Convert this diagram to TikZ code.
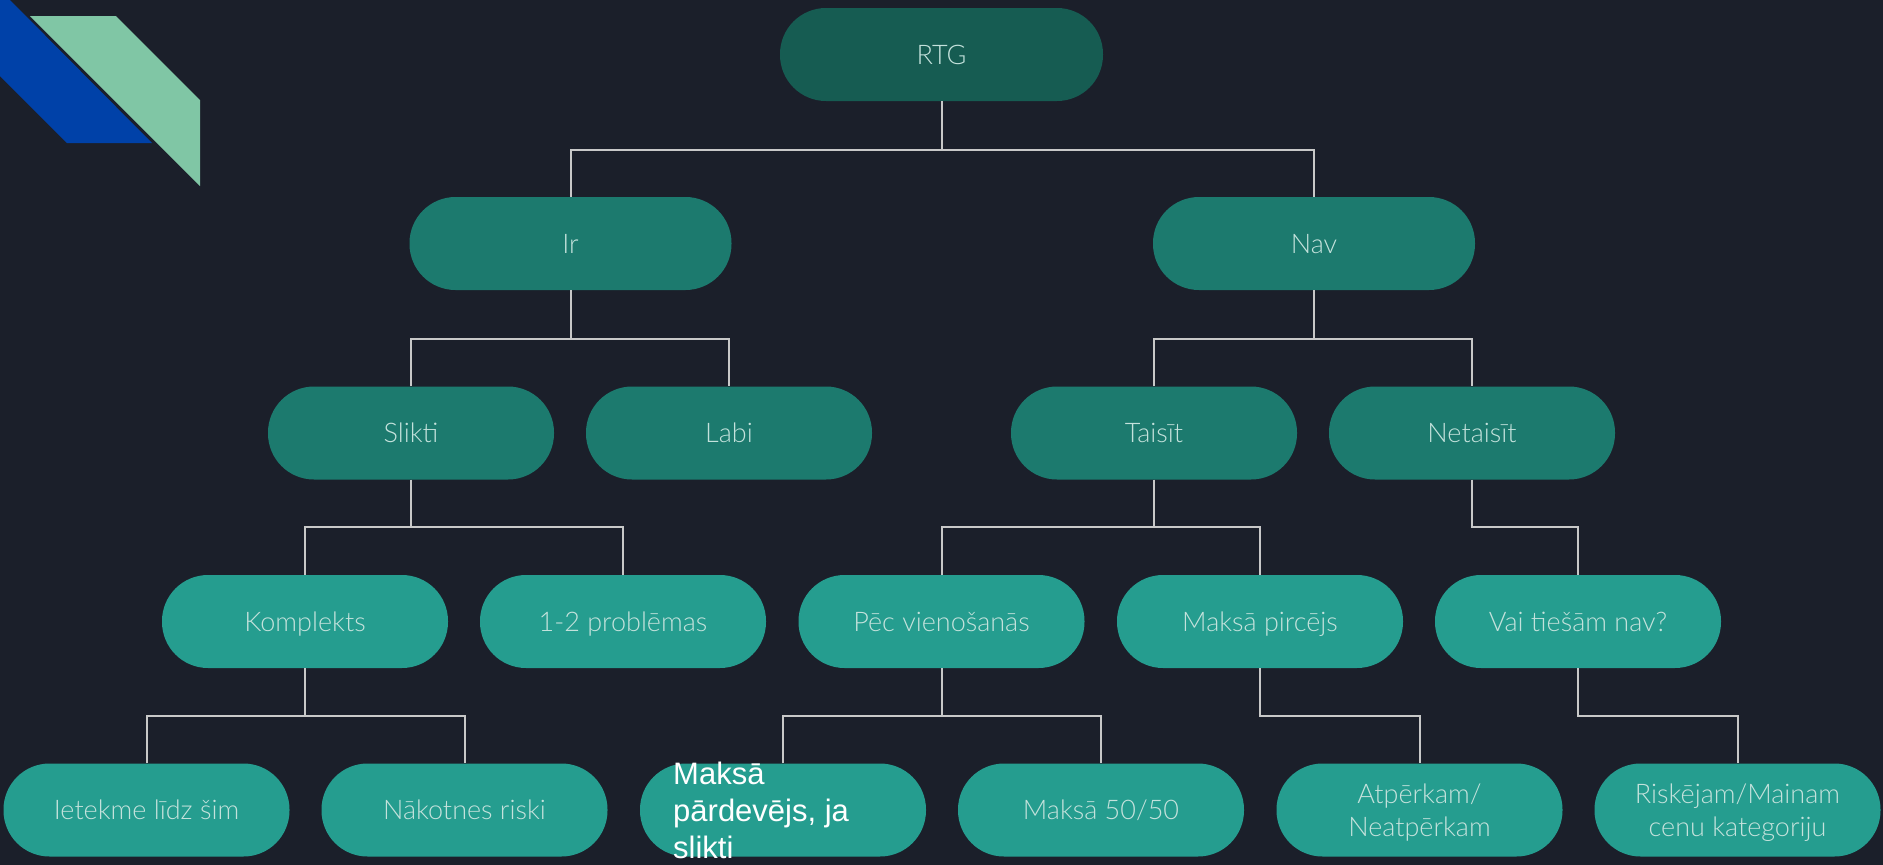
\documentclass[tikz,border=0pt]{standalone}
\usepackage{fontspec}
\setmainfont{Liberation Sans}
\newfontfamily\lightfont{Lato Light}
\newfontfamily\arialfont{Liberation Sans}
\definecolor{bg}{HTML}{1B1F2A}
\definecolor{decoblue}{HTML}{0041A8}
\definecolor{decogreen}{HTML}{80C6A5}
\definecolor{lvlzero}{HTML}{165C52}
\definecolor{lvlone}{HTML}{1C7A6E}
\definecolor{lvltwo}{HTML}{259D8F}
\definecolor{linegray}{HTML}{C8C8C8}
\definecolor{txtmint}{HTML}{C4E2DC}
\tikzset{
  pill/.style={rectangle, rounded corners=46pt, minimum height=93pt, inner sep=0pt,
    font=\lightfont\fontsize{27}{33}\selectfont, text=txtmint, align=center, text depth=0pt},
  pillwide/.style={pill, minimum width=322pt},
  pillnarrow/.style={pill, minimum width=286pt},
  conn/.style={draw=linegray, line width=2pt}
}
\begin{document}
\begin{tikzpicture}[x=1pt,y=-1pt]
\fill[bg] (0,0) rectangle (1883,865);
\useasboundingbox (0,0) rectangle (1883,865);
% decoration
\fill[decoblue] (0,0) -- (10,0) -- (152,143) -- (67,143) -- (0,76) -- cycle;
\fill[decogreen] (30,16) -- (116,16) -- (200,100) -- (200,186) -- cycle;
% bus coordinates
\coordinate (b1) at (0,149.5);
\coordinate (b2) at (0,338.5);
\coordinate (b3) at (0,527);
\coordinate (b4) at (0,715.5);
% nodes
\node[pillwide, fill=lvlzero, minimum width=323pt] (rtg) at (941.5,54.5) {RTG};
\node[pillwide, fill=lvlone] (ir) at (570.5,243.5) {Ir};
\node[pillwide, fill=lvlone] (nav) at (1314,243.5) {Nav};
\node[pillnarrow, fill=lvlone] (slikti) at (411,433) {Slikti};
\node[pillnarrow, fill=lvlone] (labi) at (729,433) {Labi};
\node[pillnarrow, fill=lvlone] (taisit) at (1154,433) {Taisīt};
\node[pillnarrow, fill=lvlone] (netaisit) at (1472,433) {Netaisīt};
\node[pillnarrow, fill=lvltwo] (komplekts) at (305,621.5) {Komplekts};
\node[pillnarrow, fill=lvltwo] (problemas) at (623,621.5) {1-2 problēmas};
\node[pillnarrow, fill=lvltwo] (pec) at (941.5,621.5) {Pēc vienošanās};
\node[pillnarrow, fill=lvltwo] (pircejs) at (1260,621.5) {Maksā pircējs};
\node[pillnarrow, fill=lvltwo] (vai) at (1578,621.5) {Vai tiešām nav?};
\node[pillnarrow, fill=lvltwo] (ietekme) at (146.5,810) {Ietekme līdz šim};
\node[pillnarrow, fill=lvltwo] (nakotnes) at (464.5,810) {Nākotnes riski};
\node[pillnarrow, fill=lvltwo] (pardevejs) at (783,810) {};
\node[pillnarrow, fill=lvltwo] (fifty) at (1101,810) {Maksā 50/50};
\node[pillnarrow, fill=lvltwo] (atperkam) at (1419.5,810) {Atpērkam/\\Neatpērkam};
\node[pillnarrow, fill=lvltwo] (riskejam) at (1737.5,810) {Riskējam/Mainam\\cenu kategoriju};
\node[anchor=north west, inner sep=0pt, align=left, text=white,
  font=\arialfont\fontsize{31}{37}\selectfont] (pardtext) at (673,762)
  {Maksā\\pārdevējs, ja\\slikti};
% connectors
\draw[conn] (rtg.south) -- (rtg.south |- b1);
\draw[conn] (ir.north) -- (ir.north |- b1) -- (nav.north |- b1) -- (nav.north);
\draw[conn] (ir.south) -- (ir.south |- b2);
\draw[conn] (slikti.north) -- (slikti.north |- b2) -- (labi.north |- b2) -- (labi.north);
\draw[conn] (nav.south) -- (nav.south |- b2);
\draw[conn] (taisit.north) -- (taisit.north |- b2) -- (netaisit.north |- b2) -- (netaisit.north);
\draw[conn] (slikti.south) -- (slikti.south |- b3);
\draw[conn] (komplekts.north) -- (komplekts.north |- b3) -- (problemas.north |- b3) -- (problemas.north);
\draw[conn] (taisit.south) -- (taisit.south |- b3);
\draw[conn] (pec.north) -- (pec.north |- b3) -- (pircejs.north |- b3) -- (pircejs.north);
\draw[conn] (netaisit.south) -- (netaisit.south |- b3) -- (vai.north |- b3) -- (vai.north);
\draw[conn] (komplekts.south) -- (komplekts.south |- b4);
\draw[conn] (ietekme.north) -- (ietekme.north |- b4) -- (nakotnes.north |- b4) -- (nakotnes.north);
\draw[conn] (pec.south) -- (pec.south |- b4);
\draw[conn] (pardevejs.north) -- (pardevejs.north |- b4) -- (fifty.north |- b4) -- (fifty.north);
\draw[conn] (pircejs.south) -- (pircejs.south |- b4) -- (atperkam.north |- b4) -- (atperkam.north);
\draw[conn] (vai.south) -- (vai.south |- b4) -- (riskejam.north |- b4) -- (riskejam.north);
\end{tikzpicture}
\end{document}
